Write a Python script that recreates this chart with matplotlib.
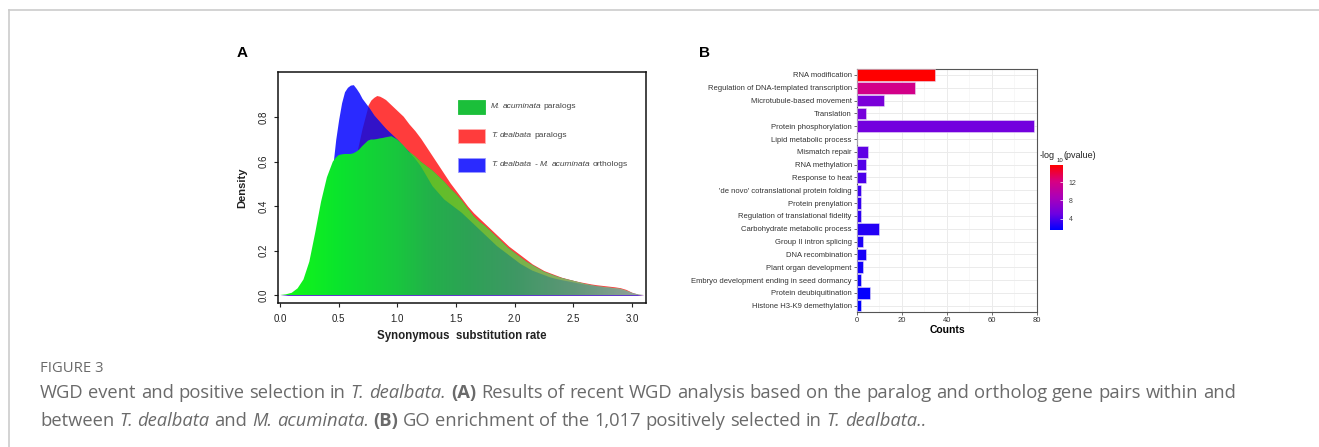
import numpy as np
import matplotlib.pyplot as plt
from matplotlib.colors import LinearSegmentedColormap, Normalize
from matplotlib.cm import ScalarMappable
from matplotlib.patches import Rectangle
from matplotlib.lines import Line2D
from matplotlib.path import Path

# ---- panel A: Ks density curves ----
ks = [0.00, 0.05, 0.10, 0.15, 0.20, 0.25, 0.30, 0.35, 0.40, 0.45,
      0.475, 0.50, 0.525, 0.55, 0.575, 0.60, 0.625, 0.65, 0.675, 0.70,
      0.75, 0.775, 0.80, 0.825, 0.85, 0.875, 0.90, 0.95,
      1.00, 1.05, 1.10, 1.15, 1.20, 1.25, 1.30, 1.35, 1.40, 1.45,
      1.50, 1.55, 1.60, 1.65, 1.70, 1.75, 1.80, 1.85, 1.90, 1.95,
      2.00, 2.05, 2.10, 2.15, 2.20, 2.25, 2.30, 2.35, 2.40, 2.45,
      2.50, 2.55, 2.60, 2.65, 2.70, 2.75, 2.80, 2.85, 2.90, 2.95,
      3.00, 3.05, 3.10]
ma_paralogs = [0.000, 0.003, 0.010, 0.030, 0.070, 0.150, 0.280, 0.420, 0.530, 0.600,
               0.618, 0.630, 0.633, 0.635, 0.635, 0.635, 0.638, 0.645, 0.655, 0.670,
               0.695, 0.700, 0.700, 0.702, 0.705, 0.707, 0.710, 0.715,
               0.700, 0.675, 0.645, 0.625, 0.600, 0.580, 0.560, 0.535, 0.510, 0.480,
               0.455, 0.425, 0.390, 0.355, 0.330, 0.310, 0.285, 0.260, 0.235, 0.210,
               0.190, 0.170, 0.150, 0.135, 0.120, 0.105, 0.095, 0.085, 0.077, 0.070,
               0.064, 0.057, 0.050, 0.045, 0.040, 0.037, 0.034, 0.031, 0.028, 0.020,
               0.010, 0.003, 0.000]
td_paralogs = [0.000, 0.001, 0.004, 0.010, 0.025, 0.050, 0.090, 0.150, 0.230, 0.320,
               0.370, 0.420, 0.465, 0.510, 0.545, 0.580, 0.605, 0.630, 0.690, 0.750,
               0.855, 0.878, 0.890, 0.898, 0.895, 0.888, 0.880, 0.855,
               0.830, 0.805, 0.770, 0.740, 0.705, 0.665, 0.625, 0.585, 0.545, 0.505,
               0.470, 0.435, 0.400, 0.370, 0.345, 0.320, 0.295, 0.270, 0.245, 0.220,
               0.200, 0.180, 0.160, 0.140, 0.125, 0.110, 0.100, 0.090, 0.080, 0.073,
               0.066, 0.060, 0.055, 0.050, 0.046, 0.043, 0.040, 0.037, 0.033, 0.025,
               0.012, 0.003, 0.000]
orthologs = [0.000, 0.002, 0.005, 0.015, 0.035, 0.070, 0.130, 0.200, 0.300, 0.580,
             0.700, 0.790, 0.865, 0.915, 0.935, 0.945, 0.947, 0.930, 0.910, 0.885,
             0.850, 0.830, 0.810, 0.795, 0.780, 0.765, 0.750, 0.725,
             0.700, 0.670, 0.645, 0.615, 0.580, 0.535, 0.490, 0.460, 0.430, 0.410,
             0.390, 0.370, 0.345, 0.320, 0.295, 0.270, 0.245, 0.220, 0.200, 0.180,
             0.160, 0.140, 0.125, 0.110, 0.100, 0.090, 0.080, 0.073, 0.067, 0.062,
             0.057, 0.052, 0.047, 0.043, 0.039, 0.035, 0.032, 0.029, 0.025, 0.018,
             0.009, 0.002, 0.000]

# ---- panel B: GO terms ----
go_terms = ["RNA modification", "Regulation of DNA-templated transcription",
            "Microtubule-based movement", "Translation", "Protein phosphorylation",
            "Lipid metabolic process", "Mismatch repair", "RNA methylation",
            "Response to heat", "'de novo' cotranslational protein folding",
            "Protein prenylation", "Regulation of translational fidelity",
            "Carbohydrate metabolic process", "Group II intron splicing",
            "DNA recombination", "Plant organ development",
            "Embryo development ending in seed dormancy", "Protein deubiquitination",
            "Histone H3-K9 demethylation"]
go_counts = [35, 26, 12, 4, 79, 0, 5, 4, 4, 2, 2, 2, 10, 3, 4, 3, 2, 6, 2]
go_logp = [15.8, 11.8, 5.8, 5.6, 5.4, 5.0, 4.6, 4.2, 4.0, 3.4,
           3.2, 3.0, 2.7, 2.5, 2.3, 2.1, 1.9, 1.7, 1.5]

W, H = 1319, 447
plt.rcParams['font.family'] = ['Liberation Sans', 'DejaVu Sans']
fig = plt.figure(figsize=(W / 100, H / 100), dpi=100)
fig.patch.set_facecolor('white')


def fx(px):
    return px / W


def fy(py):
    return 1 - py / H


def box(l, t, r, b):
    return [fx(l), fy(b), fx(r) - fx(l), fy(t) - fy(b)]


renderer = fig.canvas.get_renderer()


def text_width(s, **kw):
    t = fig.text(0, 0, s, **kw)
    w = t.get_window_extent(renderer).width
    t.remove()
    return w


def rich(x, y, parts, width=None, **kw):
    # parts: (text, style, weight); x, y in image pixels
    words = []
    for s, st, wt in parts:
        for w in s.split():
            words.append((w, st, wt))
    sizes = [text_width(w, style=st, weight=wt, **kw) for w, st, wt in words]
    gap = text_width("a a", **kw) - text_width("aa", **kw)
    if width is not None:
        gap = max(gap, (width - sum(sizes)) / (len(words) - 1))
    for (w, st, wt), sz in zip(words, sizes):
        fig.text(fx(x), fy(y), w, style=st, weight=wt, va='center', **kw)
        x += sz + gap


# outer frame of the figure page
fig.add_artist(Line2D([fx(9), 1], [fy(10), fy(10)], color='#cccccc', lw=1.2))
fig.add_artist(Line2D([fx(9), fx(9)], [fy(10), 0], color='#cccccc', lw=1.2))

# ================= panel A =================
x = np.array(ks)
g = np.array(ma_paralogs)
r = np.array(td_paralogs)
b = np.array(orthologs)

axA = fig.add_axes(box(278, 72, 646, 303))
axA.fill_between(x, 0, r, color='#ff3c3c', lw=0, zorder=1)
axA.fill_between(x, 0, b, color='#2a2aff', lw=0, zorder=2)
axA.fill_between(x, 0, np.minimum(r, b), color='#3212c8', lw=0, zorder=3)


def gradient(stops, cols, n=300):
    xs = np.linspace(0, 3.1, n)
    cols = np.array(cols) / 255.0
    img = np.stack([np.interp(xs, stops, cols[:, k]) for k in range(3)], axis=-1)
    return img[None, :, :]


green_poly = axA.fill_between(x, 0, g, color='none', lw=0)
im = axA.imshow(gradient([0, 0.5, 1.0, 1.3, 1.6, 2.0, 2.5, 3.0, 3.1],
                         [(20, 250, 20), (10, 228, 45), (25, 198, 62), (35, 175, 75),
                          (45, 162, 85), (62, 152, 100), (95, 150, 120), (140, 160, 150),
                          (150, 165, 158)]),
                extent=[0, 3.1, 0, 1], aspect='auto', origin='lower', zorder=4)
im.set_clip_path(green_poly.get_paths()[0], transform=axA.transData)

band = axA.fill_between(x, b, g, where=(g > b) & (x >= 1.1), interpolate=True,
                        color='none', lw=0)
im2 = axA.imshow(gradient([0, 1.2, 1.6, 2.0, 2.5, 3.0, 3.1],
                          [(95, 190, 40), (95, 190, 40), (105, 188, 48), (120, 180, 70),
                           (140, 172, 100), (160, 175, 135), (165, 178, 140)]),
                 extent=[0, 3.1, 0, 1], aspect='auto', origin='lower', zorder=5)
im2.set_clip_path(Path.make_compound_path(*band.get_paths()), transform=axA.transData)

axA.set_xlim(-0.017, 3.12)
axA.set_ylim(-0.036, 1.004)
axA.set_xticks([0, 0.5, 1.0, 1.5, 2.0, 2.5, 3.0])
axA.set_xticklabels(["0.0", "0.5", "1.0", "1.5", "2.0", "2.5", "3.0"])
axA.set_yticks([0, 0.2, 0.4, 0.6, 0.8])
axA.set_yticklabels(["0.0", "0.2", "0.4", "0.6", "0.8"], rotation=90, va='center')
axA.tick_params(labelsize=7, length=3, width=0.8, colors='#222222')
axA.tick_params(axis='x', pad=5)
axA.tick_params(axis='y', pad=4)
for s in axA.spines.values():
    s.set_linewidth(1.1)
    s.set_color('#111111')
axA.set_xlabel("Synonymous  substitution rate", fontsize=8.3, weight='bold', labelpad=4,
               color='#222222')
axA.set_ylabel("Density", fontsize=8, weight='bold', labelpad=8, color='#222222')

# legend
leg_cols = [('#1bbf3a', '#1bbf3a'), ('#ff3c3c', '#ffb0b0'), ('#2a2aff', '#9a9aff')]
leg_rows = [107, 136, 165]
leg_text = [[("M. acuminata", 'italic', 'normal'), ("paralogs", 'normal', 'normal')],
            [("T. dealbata", 'italic', 'normal'), ("paralogs", 'normal', 'normal')],
            [("T. dealbata - M. acuminata", 'italic', 'normal'),
             ("orthologs", 'normal', 'normal')]]
for (fc, ec), yy, parts in zip(leg_cols, leg_rows, leg_text):
    fig.add_artist(Rectangle((fx(458), fy(yy + 7)), fx(27), 14 / H, facecolor=fc,
                             edgecolor=ec, lw=0.6, transform=fig.transFigure))
    rich(491, yy, parts, fontsize=6, color='#444444')

fig.text(fx(242), fy(53), "A", fontsize=11, weight='bold', ha='center', va='center')
fig.text(fx(705), fy(53), "B", fontsize=11, weight='bold', ha='center', va='center')

# ================= panel B =================
cmap = LinearSegmentedColormap.from_list(
    "bluered", [(0, 0, 1), (110 / 255, 0, 225 / 255), (170 / 255, 0, 185 / 255),
                (215 / 255, 0, 130 / 255), (1, 0, 0)])
norm = Normalize(1.5, 15.8)

axB = fig.add_axes(box(856.7, 69.3, 1037.3, 311.7))
ypos = np.arange(len(go_terms))
axB.barh(ypos, go_counts, height=0.9, color=cmap(norm(np.array(go_logp))),
         edgecolor='#e6dcf5', linewidth=0.4, zorder=3)
axB.set_yticks(ypos)
axB.set_yticklabels(go_terms)
axB.set_ylim(len(go_terms) - 0.53, -0.44)
axB.set_xlim(0, 80.3)
axB.set_xticks([0, 20, 40, 60, 80])
axB.set_xticks([10, 30, 50, 70], minor=True)
axB.grid(True, which='major', color='#ebebeb', lw=0.7, zorder=0)
axB.grid(True, which='minor', axis='x', color='#f2f2f2', lw=0.4, zorder=0)
axB.set_axisbelow(True)
axB.tick_params(axis='both', which='major', labelsize=5.5, length=2, width=0.5,
                colors='#333333', pad=1.5)
axB.tick_params(axis='both', which='minor', length=0)
for s in axB.spines.values():
    s.set_linewidth(0.8)
    s.set_color('#555555')
axB.set_xlabel("Counts", fontsize=7.5, weight='bold', labelpad=1)

cax = fig.add_axes(box(1050, 165, 1063.3, 230))
cb = fig.colorbar(ScalarMappable(norm=norm, cmap=cmap), cax=cax)
cb.outline.set_visible(False)
cb.set_ticks([4, 8, 12])
cax.tick_params(labelsize=5, length=2.5, width=0.5, color='white', direction='in',
                labelcolor='#444444', pad=4)
# legend title: -log10(pvalue) with a lowered "10"
t1 = fig.text(fx(1040), fy(158), "-log", fontsize=6.5, va='baseline', color='#222222')
x1 = t1.get_window_extent(renderer).x1 + 1.5
t2 = fig.text(fx(x1), fy(161.5), "10", fontsize=4.3, va='baseline', color='#222222')
x2 = t2.get_window_extent(renderer).x1 + 0.3
fig.text(fx(x2), fy(158), "(pvalue)", fontsize=6.5, va='baseline', color='#222222')

# ================= caption =================
cap = dict(fontsize=13.2, color='#6a6a6a', family=['Open Sans', 'DejaVu Sans'])
fig.text(fx(40), fy(369), "FIGURE 3", va='center', fontsize=10.7, color='#6a6a6a',
         family=['Open Sans', 'DejaVu Sans'])
rich(40, 393, [("WGD event and positive selection in", 'normal', 'normal'),
               ("T. dealbata.", 'italic', 'normal'), ("(A)", 'normal', 'bold'),
               ("Results of recent WGD analysis based on the paralog and ortholog gene pairs within and",
                'normal', 'normal')], width=1196, **cap)
rich(40, 421, [("between", 'normal', 'normal'), ("T. dealbata", 'italic', 'normal'),
               ("and", 'normal', 'normal'), ("M. acuminata.", 'italic', 'normal'),
               ("(B)", 'normal', 'bold'),
               ("GO enrichment of the 1,017 positively selected in", 'normal', 'normal'),
               ("T. dealbata..", 'italic', 'normal')], **cap)

fig.savefig("out.png", dpi=100, facecolor='white')
